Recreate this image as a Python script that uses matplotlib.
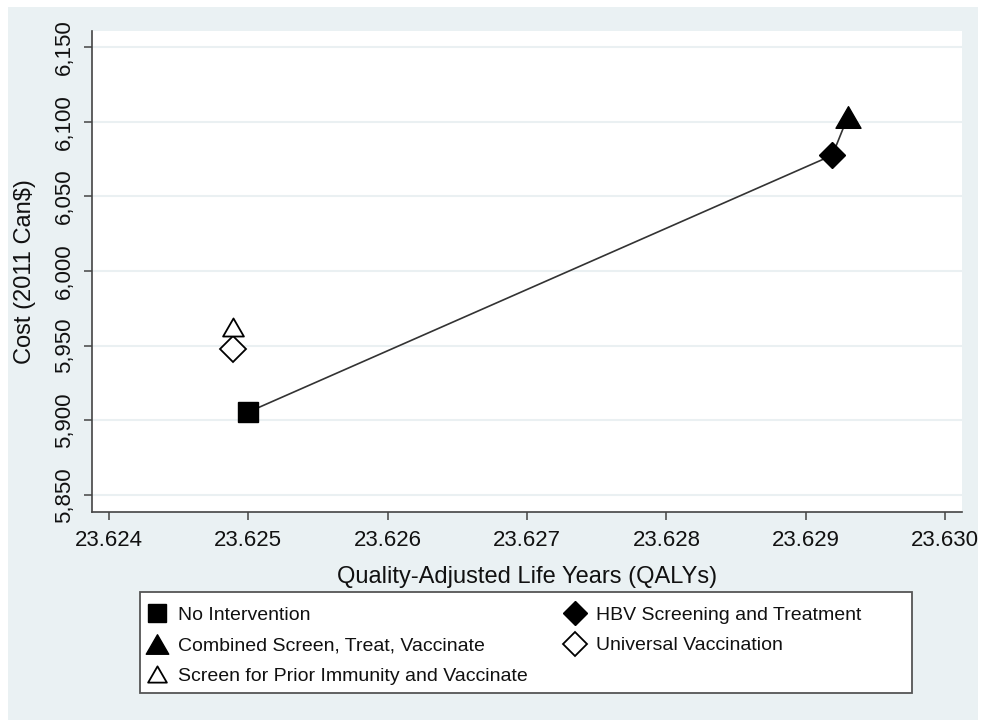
import matplotlib
matplotlib.use("Agg")
import matplotlib.pyplot as plt
from matplotlib.patches import Rectangle
from matplotlib.path import Path
from matplotlib.ticker import StrMethodFormatter

plt.rcParams['font.family'] = ['Liberation Sans', 'DejaVu Sans']

# strategies: (QALYs, cost)
labels = [
    "No Intervention",
    "HBV Screening and Treatment",
    "Combined Screen, Treat, Vaccinate",
    "Universal Vaccination",
    "Screen for Prior Immunity and Vaccinate",
]
qalys = [23.62500, 23.62919, 23.62930, 23.62489, 23.62489]
costs = [5905.5, 6077.5, 6103.0, 5948.0, 5962.5]

# efficient frontier goes through the first three
frontier = [0, 1, 2]

x_ticks = [23.624, 23.625, 23.626, 23.627, 23.628, 23.629, 23.630]
y_ticks = [5850, 5900, 5950, 6000, 6050, 6100, 6150]

W, H = 984, 722
fig = plt.figure(figsize=(W / 100, H / 100), dpi=100, facecolor='white')
fig.patches.append(Rectangle((8 / W, 2 / H), 970 / W, 713 / H,
                             transform=fig.transFigure, facecolor='#eaf1f3',
                             edgecolor='none', zorder=-1))

ax = fig.add_axes([92 / W, (H - 512) / H, 870 / W, 481 / H])
ax.set_facecolor('white')

ax.plot([qalys[i] for i in frontier], [costs[i] for i in frontier],
        color='#333333', lw=1.2, zorder=2)

tri = Path([(-1, -0.866), (1, -0.866), (0, 0.866), (-1, -0.866)], closed=True)
styles = [
    dict(marker='s', ms=15, mfc='black', mec='black'),
    dict(marker='D', ms=13.5, mfc='black', mec='black'),
    dict(marker=tri, ms=18, mfc='black', mec='black'),
    dict(marker='D', ms=13.5, mfc='white', mec='black', mew=1.3),
    dict(marker=tri, ms=15, mfc='white', mec='black', mew=1.3),
]
handles = {}
for lab, xq, yc, st in zip(labels, qalys, costs, styles):
    h, = ax.plot([xq], [yc], ls='none', label=lab, zorder=3, **st)
    handles[lab] = h

ax.set_xlim(23.62388, 23.63012)
ax.set_ylim(5838.6, 6160.7)
ax.set_xticks(x_ticks)
ax.set_yticks(y_ticks)
ax.xaxis.set_major_formatter(StrMethodFormatter('{x:.3f}'))
ax.yaxis.set_major_formatter(StrMethodFormatter('{x:,.0f}'))
ax.grid(axis='y', color='#eaf0f2', lw=1.5)
ax.set_axisbelow(True)

for s in ['top', 'right']:
    ax.spines[s].set_visible(False)
for s in ['left', 'bottom']:
    ax.spines[s].set_color('#444444')
    ax.spines[s].set_linewidth(1.2)

ax.tick_params(axis='both', direction='out', length=6, width=1.1,
               color='#444444', labelsize=16, labelcolor='#111111')
ax.tick_params(axis='x', pad=7)
ax.tick_params(axis='y', pad=6)
for t in ax.get_yticklabels():
    t.set_rotation(90)
    t.set_va('center')

ax.set_xlabel("Quality-Adjusted Life Years (QALYs)", fontsize=17,
              color='#111111', labelpad=11)
ax.set_ylabel("Cost (2011 Can$)", fontsize=17, color='#111111', labelpad=13)

# legend box drawn by hand, two frameless legends inside it
fig.patches.append(Rectangle((140 / W, (H - 693) / H), 772 / W, 101 / H,
                             transform=fig.transFigure, facecolor='white',
                             edgecolor='#555555', lw=1.3, zorder=1))
leg_kw = dict(loc='upper left', bbox_transform=fig.transFigure, fontsize=14,
              frameon=False, handlelength=1.0, handletextpad=0.6,
              labelspacing=0.68, borderpad=0, borderaxespad=0,
              markerscale=0.9)
col1 = [labels[0], labels[2], labels[4]]
col2 = [labels[1], labels[3]]
leg1 = fig.legend([handles[k] for k in col1], col1,
                  bbox_to_anchor=(147 / W, (H - 606) / H), **leg_kw)
leg2 = fig.legend([handles[k] for k in col2], col2,
                  bbox_to_anchor=(565 / W, (H - 606) / H), **leg_kw)
for leg in (leg1, leg2):
    for t in leg.get_texts():
        t.set_color('#111111')

fig.savefig('out.png', dpi=100, facecolor=fig.get_facecolor())
